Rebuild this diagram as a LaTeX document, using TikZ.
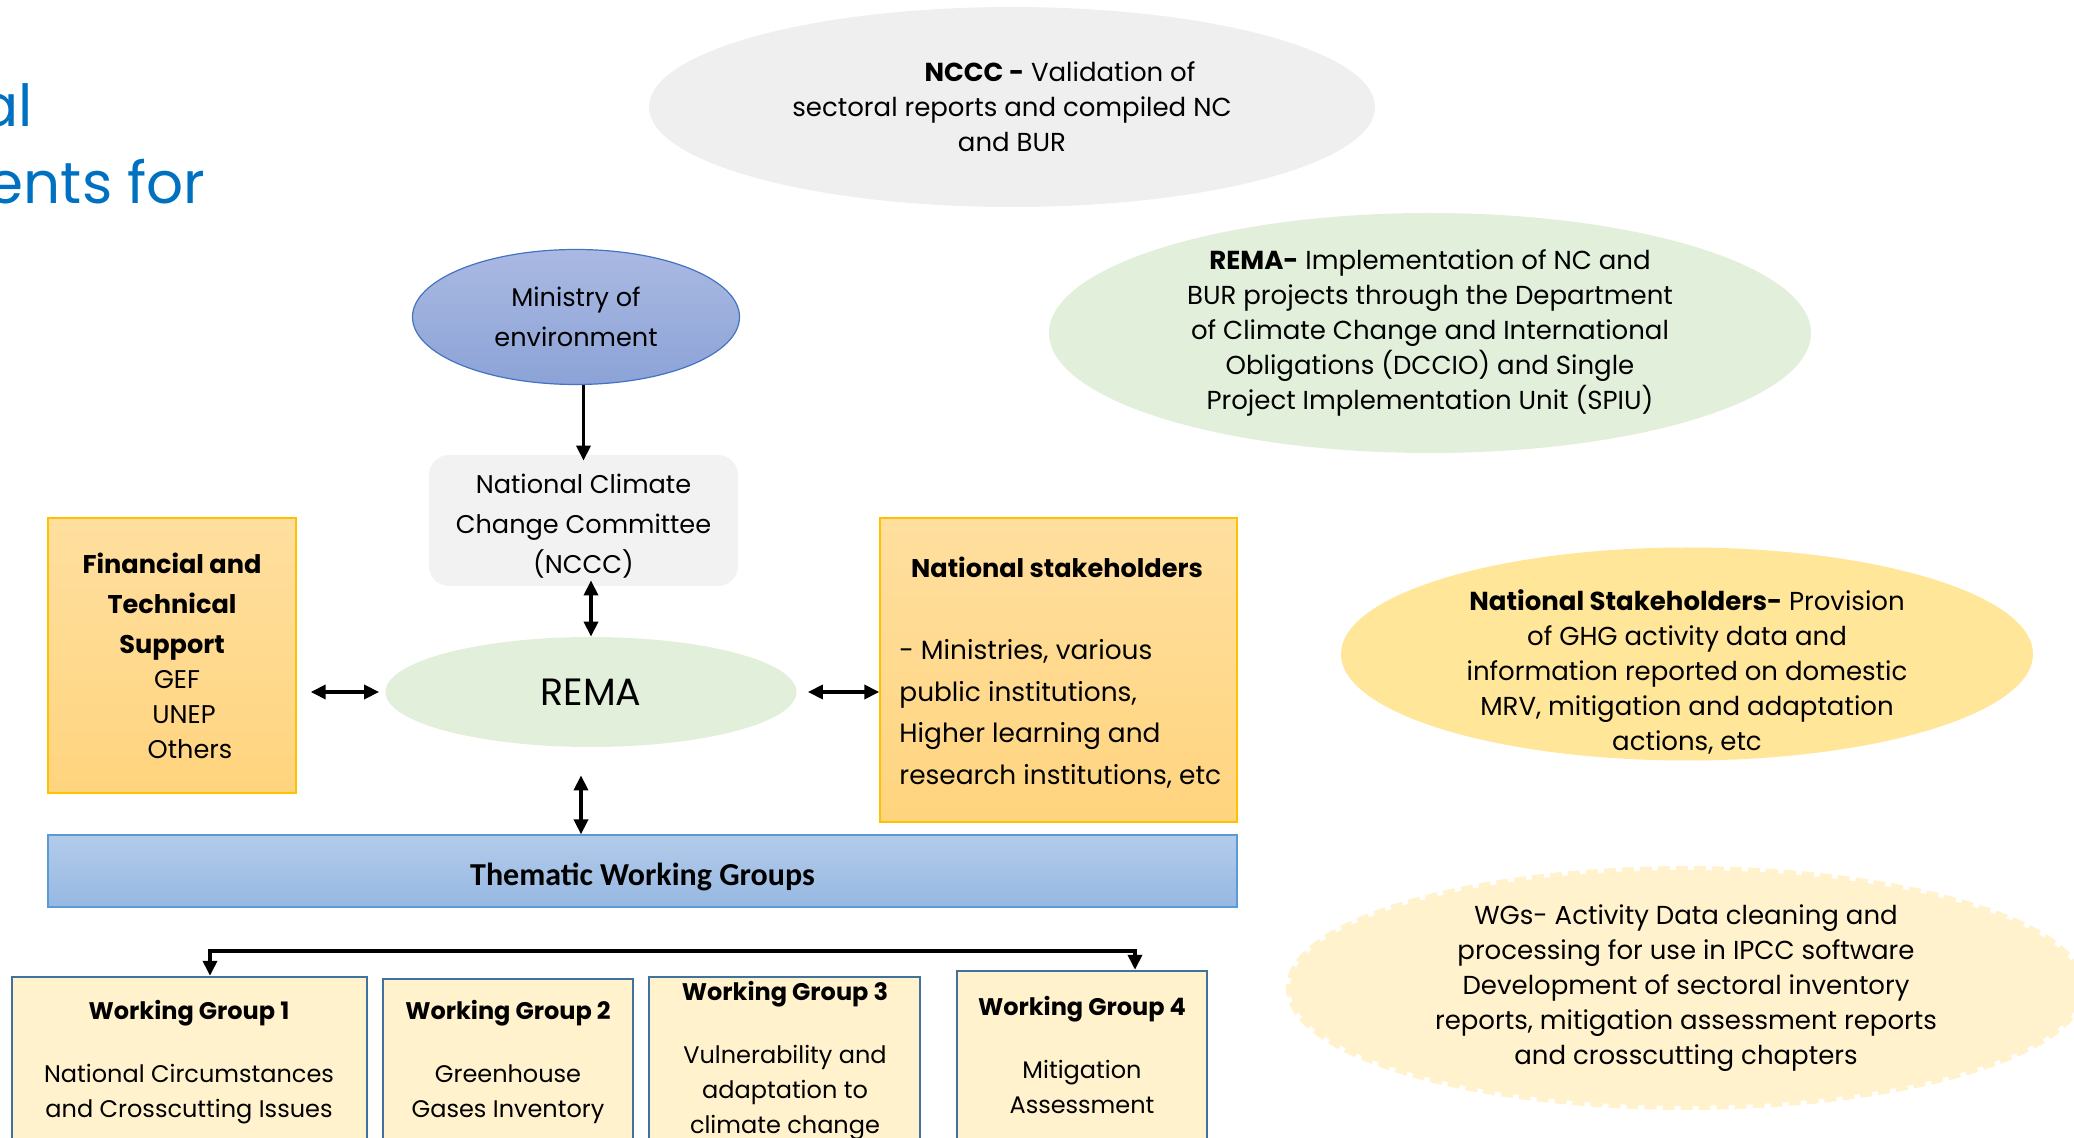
\documentclass[tikz,border=0pt]{standalone}
\usepackage{fontspec}
\setmainfont{Poppins}
\newfontfamily\calfont{Carlito}
\usepackage{xcolor}
\usetikzlibrary{arrows.meta, positioning, shapes.geometric, calc}

\definecolor{titleblue}{HTML}{0070C0}
\definecolor{ncccgray}{HTML}{EFEFEF}
\definecolor{boxgray}{HTML}{F2F2F2}
\definecolor{remagreen}{HTML}{E2EFDA}
\definecolor{stakegold}{HTML}{FFE699}
\definecolor{wgcream}{HTML}{FFF2CC}
\definecolor{wgedge}{HTML}{41719C}
\definecolor{orangetop}{HTML}{FFDF9F}
\definecolor{orangebot}{HTML}{FFD47E}
\definecolor{orangeedge}{HTML}{FFC000}
\definecolor{mintop}{HTML}{AAB9E2}
\definecolor{minbot}{HTML}{8CA3D7}
\definecolor{minedge}{HTML}{4472C4}
\definecolor{twgtop}{HTML}{B3CBEA}
\definecolor{twgbot}{HTML}{96B8E2}
\definecolor{twgedge}{HTML}{5B9BD5}

\begin{document}
\begin{tikzpicture}[
        x=0.5pt, y=-0.5pt,
        >={Triangle[length=7.5pt, width=7pt]},
        txt/.style={font=\fontsize{13}{17.5}\selectfont, align=center, inner sep=0pt},
        boxtxt/.style={font=\fontsize{12.8}{20}\selectfont, align=center, inner sep=0pt},
        titletext/.style={font=\fontsize{29}{34}\selectfont, text=titleblue, inner sep=0pt},
        greyell/.style={ellipse, fill=ncccgray, txt},
        greenell/.style={ellipse, fill=remagreen, txt},
        goldell/.style={ellipse, fill=stakegold, txt},
        creamell/.style={ellipse, fill=wgcream, draw=wgcream, line width=4pt, dash pattern=on 6pt off 3pt, txt},
        ministryell/.style={ellipse, draw=minedge, line width=0.6pt, top color=mintop, bottom color=minbot, boxtxt},
        greybox/.style={rectangle, rounded corners=10pt, fill=boxgray},
        remaell/.style={ellipse, fill=remagreen, inner sep=0pt, font=\fontsize{19}{22}\selectfont},
        orangebox/.style={rectangle, draw=orangeedge, line width=0.7pt, top color=orangetop, bottom color=orangebot, boxtxt},
        bluebar/.style={rectangle, draw=twgedge, line width=0.6pt, top color=twgtop, bottom color=twgbot, text height=14pt, text depth=0pt, font=\calfont\bfseries\fontsize{16}{19}\selectfont},
        wgbox/.style={rectangle, draw=wgedge, line width=1.2pt, fill=wgcream},
        wgtxt/.style={font=\fontsize{12}{17.5}\selectfont, align=center, inner sep=0pt, anchor=north},
        arrow/.style={->, line width=1.8pt},
        twoway/.style={<->, line width=1.8pt}
    ]
    \useasboundingbox (0,0) rectangle (2074,1138);

    % --- Title (cut off at the left) ---
    \node[titletext, anchor=base east] (titlea) at (33,127) {al};
    \node[titletext, anchor=base east] (titleb) at (206,204) {ents for};

    % --- Role ellipses on the right ---
    \node[greyell, minimum width=363pt, minimum height=100pt] (ncccell) at (1012,107) {\hspace*{48pt}\textbf{NCCC -} Validation of\\sectoral reports and compiled NC\\and BUR};
    \node[greenell, minimum width=381pt, minimum height=120pt] (remaell) at (1430,333) {\textbf{REMA-} Implementation of NC and\\BUR projects through the Department\\of Climate Change and International\\Obligations (DCCIO) and Single\\Project Implementation Unit (SPIU)};
    \node[goldell, minimum width=346pt, minimum height=106.5pt] (stakeell) at (1687,654) {};
    \node[txt] (staketext) at (1687,672) {\textbf{National Stakeholders-} Provision\\of GHG activity data and\\information reported on domestic\\MRV, mitigation and adaptation\\actions, etc};
    \node[creamell, minimum width=396pt, minimum height=99pt] (wgell) at (1686,988) {WGs- Activity Data cleaning and\\processing for use in IPCC software\\Development of sectoral inventory\\reports, mitigation assessment reports\\and crosscutting chapters};

    % --- Core structure ---
    \node[ministryell, minimum width=163.5pt, minimum height=67.5pt] (ministry) at (576,317) {Ministry of\\environment};
    \node[greybox, minimum width=154.5pt, minimum height=65.5pt] (ncccbox) at (583.5,520.5) {};
    \node[boxtxt] (nccctext) at (583.5,526) {National Climate\\Change Committee\\(NCCC)};
    \node[remaell, minimum width=205.5pt, minimum height=55pt] (rema) at (591,692) {REMA};

    \node[orangebox, font=\fontsize{12.8}{17.5}\selectfont, minimum width=124pt, minimum height=137.5pt] (finbox) at (172,655.5) {\textbf{Financial and}\\[2.5pt]\textbf{Technical}\\[2.5pt]\textbf{Support}\\\hspace*{5pt}GEF\\\hspace*{12pt}UNEP\\\hspace*{18pt}Others};

    \node[orangebox, minimum width=178.5pt, minimum height=152pt] (stakebox) at (1058.5,670) {};
    \node[boxtxt, anchor=base] (stakehead) at (1057,578) {\textbf{National stakeholders}};
    \node[boxtxt, font=\fontsize{13.2}{20.8}\selectfont, align=left, anchor=west] (stakebody) at (899,714) {- Ministries, various\\public institutions,\\Higher learning and\\research institutions, etc};

    \node[bluebar, minimum width=594.5pt, minimum height=36pt] (twgbar) at (642.5,871) {Thematic Working Groups};

    % --- Working groups (boxes run past the bottom edge) ---
    \node[wgbox, minimum width=177.5pt, minimum height=86.5pt] (wg1) at (189.5,1063.5) {};
    \node[wgbox, minimum width=125pt, minimum height=85.5pt] (wg2) at (508,1064.5) {};
    \node[wgbox, minimum width=135.5pt, minimum height=86.5pt] (wg3) at (784.5,1063.5) {};
    \node[wgbox, minimum width=125pt, minimum height=89.5pt] (wg4) at (1082,1060.5) {};

    \node[wgtxt] (wg1text) at (189,1000) {\textbf{Working Group 1}\\[14pt]National Circumstances\\and Crosscutting Issues};
    \node[wgtxt] (wg2text) at (508,1000) {\textbf{Working Group 2}\\[14pt]Greenhouse\\Gases Inventory};
    \node[wgtxt] (wg3text) at (785,981) {\textbf{Working Group 3}\\[14pt]Vulnerability and\\adaptation to\\climate change};
    \node[wgtxt] (wg4text) at (1082,996) {\textbf{Working Group 4}\\[14pt]Mitigation\\Assessment};

    % --- Connections ---
    \draw[arrow] (ministry.south -| ncccbox.north) -- ([yshift=-3pt]ncccbox.north);
    \draw[twoway] ([yshift=3pt]ncccbox.south -| rema.north) -- (rema.north);
    \draw[twoway] ([xshift=7pt]finbox.east |- rema.west) -- ([xshift=-3pt]rema.west);
    \draw[twoway] ([xshift=5.5pt]rema.east) -- (stakebox.west |- rema.east);
    \draw[twoway] ($(rema.south)+(-10,28)$) -- ($(twgbar.north)+(-61.5,0)$);
    \draw[twoway] ([xshift=10.25pt]wg1.north) -- ++(0,-25) -| ([xshift=26.5pt]wg4.north);

\end{tikzpicture}
\end{document}
